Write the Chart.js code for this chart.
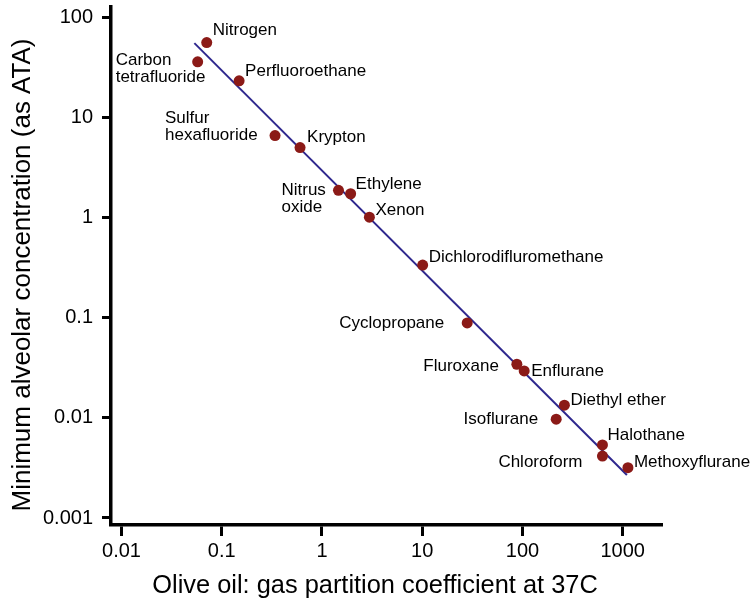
<!DOCTYPE html>
<html><head><meta charset="utf-8">
<script src="https://cdn.jsdelivr.net/npm/chart.js@4/dist/chart.umd.min.js"></script>
<style>html,body{margin:0;padding:0;background:#fff}#wrap{width:750px;height:601px}</style>
</head><body><div id="wrap"><canvas id="c" width="750" height="601"></canvas></div>
<script>
// ---- data ----
const gasNames = ['Nitrogen', 'Carbon\ntetrafluoride', 'Perfluoroethane', 'Sulfur\nhexafluoride', 'Krypton',
  'Nitrus\noxide', 'Ethylene', 'Xenon', 'Dichlorodifluromethane', 'Cyclopropane', 'Fluroxane', 'Enflurane',
  'Diethyl ether', 'Isoflurane', 'Halothane', 'Chloroform', 'Methoxyflurane'];
const oilGasCoeff = [0.0708, 0.0575, 0.149, 0.340, 0.604, 1.46, 1.93, 2.97, 10.1, 28.1, 87.9, 104, 262, 217, 628, 628, 1127];
const macATA = [56.0, 35.9, 23.2, 6.59, 5.00, 1.87, 1.73, 1.01, 0.336, 0.0887, 0.0343, 0.0294, 0.0134, 0.00969, 0.00536, 0.00415, 0.00318];
const fitLineX = [0.0533, 1101];
const fitLineY = [55.2, 0.00269];
const xTickValues = [0.01, 0.1, 1, 10, 100, 1000];
const xTickLabels = ['0.01', '0.1', '1', '10', '100', '1000'];
const yTickValues = [0.001, 0.01, 0.1, 1, 10, 100];
const yTickLabels = ['0.001', '0.01', '0.1', '1', '10', '100'];
const xTitle = 'Olive oil: gas partition coefficient at 37C';
const yTitle = 'Minimum alveolar concentration (as ATA)';

// ---- label placement (style, pixel offsets from each point) ----
const labelPlacement = [
  {dx: 6, dy: -12, align: 'left'}, {dx: -82, dy: -2, align: 'left'}, {dx: 6, dy: -10, align: 'left'},
  {dx: -110, dy: -17, align: 'left'}, {dx: 7, dy: -10, align: 'left'}, {dx: -57, dy: 0, align: 'left'},
  {dx: 5, dy: -9, align: 'left'}, {dx: 6, dy: -7, align: 'left'}, {dx: 6, dy: -8, align: 'left'},
  {dx: -23, dy: 0, align: 'right'}, {dx: -18, dy: 2, align: 'right'}, {dx: 7, dy: 0, align: 'left'},
  {dx: 6, dy: -5, align: 'left'}, {dx: -18, dy: 0, align: 'right'}, {dx: 5, dy: -10, align: 'left'},
  {dx: -20, dy: 6, align: 'right'}, {dx: 6, dy: -5, align: 'left'}
];
const FONT = '"Liberation Sans", Arial, Helvetica, sans-serif';

const pointLabels = {
  id: 'pointLabels',
  afterDatasetsDraw(chart) {
    const ctx = chart.ctx;
    const meta = chart.getDatasetMeta(0);
    ctx.save();
    ctx.font = '17px ' + FONT;
    ctx.fillStyle = '#000';
    ctx.textBaseline = 'middle';
    meta.data.forEach((el, i) => {
      const p = labelPlacement[i];
      ctx.textAlign = p.align;
      gasNames[i].split('\n').forEach((line, k) => {
        ctx.fillText(line, el.x + p.dx, el.y + p.dy + k * 17);
      });
    });
    ctx.restore();
  }
};
const axisTitles = {
  id: 'axisTitles',
  afterDraw(chart) {
    const ctx = chart.ctx;
    ctx.save();
    ctx.fillStyle = '#000';
    ctx.textAlign = 'center';
    ctx.textBaseline = 'alphabetic';
    ctx.font = '25.4px ' + FONT;
    ctx.fillText(xTitle, 375, 593);
    ctx.font = '26px ' + FONT;
    ctx.translate(30, 275);
    ctx.rotate(-Math.PI / 2);
    ctx.fillText(yTitle, 0, 0);
    ctx.restore();
  }
};

new Chart(document.getElementById('c'), {
  type: 'scatter',
  data: {
    datasets: [
      {
        data: oilGasCoeff.map((x, i) => ({x, y: macATA[i]})),
        backgroundColor: '#8b1a17', borderWidth: 0, pointRadius: 5.5, pointHoverRadius: 5.5, showLine: false
      },
      {
        data: fitLineX.map((x, i) => ({x, y: fitLineY[i]})),
        borderColor: '#2f288e', borderWidth: 2, pointRadius: 0, showLine: true, fill: false
      }
    ]
  },
  options: {
    responsive: false, animation: false, devicePixelRatio: 1,
    layout: {padding: {top: 7, right: 88, bottom: 0, left: 0}},
    plugins: {legend: {display: false}, tooltip: {enabled: false}},
    scales: {
      x: {
        type: 'logarithmic', position: 'bottom', bounds: 'data',
        min: Math.pow(10, -2.105), max: Math.pow(10, 3.392),
        afterBuildTicks: s => { s.ticks = xTickValues.map(v => ({value: v})); },
        afterFit: s => { s.height = 76; s.paddingLeft = 0; s.paddingRight = 0; },
        ticks: {callback: (v, i) => xTickLabels[i], font: {family: FONT, size: 20}, color: '#000', padding: 3, maxRotation: 0, autoSkip: false},
        grid: {display: true, drawOnChartArea: false, drawTicks: true, tickLength: 11, tickWidth: 3, tickColor: '#000'},
        border: {display: true, width: 3.5, color: '#000'}
      },
      y: {
        type: 'logarithmic', position: 'left', bounds: 'data',
        min: Math.pow(10, -3.070), max: Math.pow(10, 2.103),
        afterBuildTicks: s => { s.ticks = yTickValues.map(v => ({value: v})); },
        afterFit: s => { s.width = 111; s.paddingTop = 0; s.paddingBottom = 0; },
        ticks: {callback: (v, i) => yTickLabels[i], font: {family: FONT, size: 20}, color: '#000', padding: 9, autoSkip: false},
        grid: {display: true, drawOnChartArea: false, drawTicks: true, tickLength: 9, tickWidth: 3, tickColor: '#000'},
        border: {display: true, width: 3.5, color: '#000'}
      }
    }
  },
  plugins: [pointLabels, axisTitles]
});
</script>
</body></html>
